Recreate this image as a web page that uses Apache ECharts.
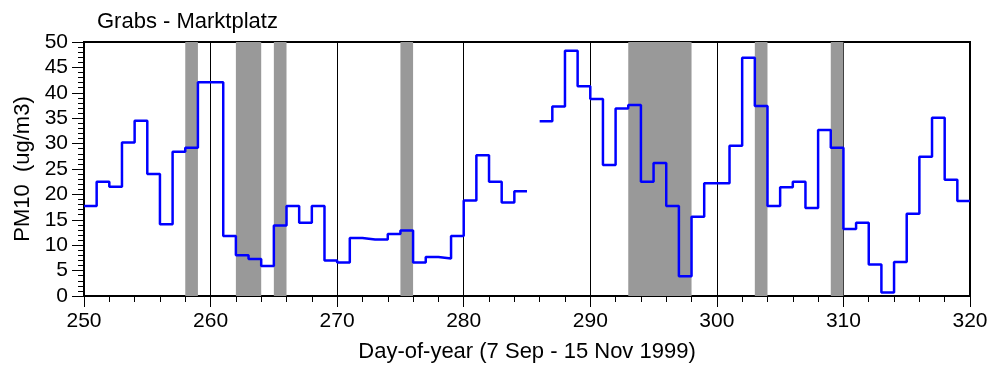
<!DOCTYPE html>
<html>
<head>
<meta charset="utf-8">
<script src="https://cdn.jsdelivr.net/npm/echarts@6/dist/echarts.min.js"></script>
<style>html,body{margin:0;padding:0;background:#fff;}#c{width:989px;height:365px;}</style>
</head>
<body>
<div id="c"></div>
<script>
// Day-of-year at start of each daily step
var days = [250,251,252,253,254,255,256,257,258,259,260,261,262,263,264,265,266,267,268,269,
            270,271,272,273,274,275,276,277,278,279,280,281,282,283,284,285,286,287,288,289,
            290,291,292,293,294,295,296,297,298,299,300,301,302,303,304,305,306,307,308,309,
            310,311,312,313,314,315,316,317,318,319];
// PM10 daily values (null = missing)
var pm10 = [17.7,22.5,21.5,30.2,34.5,24.0,14.1,28.4,29.2,42.1,42.1,11.8,8.0,7.3,5.9,13.9,17.7,14.4,17.7,7.0,
            6.6,11.4,11.1,11.1,12.2,12.9,6.6,7.7,7.4,11.8,18.8,27.7,22.5,18.4,20.6,null,34.4,37.3,48.3,41.3,
            38.8,25.8,36.9,37.6,22.5,26.2,17.7,3.9,15.6,22.2,22.2,29.6,46.9,37.4,17.7,21.4,22.5,17.3,32.7,29.2,
            13.2,14.4,6.2,0.7,6.7,16.2,27.4,35.1,22.9,18.7];
// Shaded periods [start, end]
var bands = [[258,259],[262,264],[265,266],[275,276],[293,298],[303,304],[309,310]];
var xTicks = [250,260,270,280,290,300,310,320];
var yTicks = [0,5,10,15,20,25,30,35,40,45,50];

// build step data: each day holds its value until the next day
var data = [];
for (var i = 0; i < days.length; i++) {
  var v = pm10[i];
  if (v === null) { data.push([days[i], '-']); continue; }
  data.push([days[i], v]);
  var nextNull = i === days.length - 1 || pm10[i+1] === null;
  if (nextNull) data.push([days[i] + 1, v]);
}

var FONT = "'Liberation Sans', Arial, Helvetica, sans-serif";
var chart = echarts.init(document.getElementById('c'), null, {renderer: 'canvas'});
chart.setOption({
  animation: false,
  title: {
    text: 'Grabs - Marktplatz', left: 92, top: 6,
    textStyle: {fontFamily: FONT, fontSize: 22, fontWeight: 'normal', color: '#000'}
  },
  grid: {left: 84, right: 19, top: 42, bottom: 69, show: true, borderColor: '#000', borderWidth: 2,
         backgroundColor: 'transparent', containLabel: false, outerBoundsMode: 'none'},
  xAxis: {
    type: 'value', min: xTicks[0], max: xTicks[xTicks.length-1], interval: 10,
    name: 'Day-of-year (7 Sep - 15 Nov 1999)', nameLocation: 'middle', nameGap: 45,
    nameTextStyle: {fontFamily: FONT, fontSize: 22, color: '#000'},
    axisLine: {show: true, lineStyle: {color: '#000', width: 2}},
    axisTick: {show: true, inside: false, length: 11, lineStyle: {color: '#000', width: 1}},
    minorTick: {show: true, splitNumber: 5, length: 6, lineStyle: {color: '#000', width: 1}},
    axisLabel: {fontFamily: FONT, fontSize: 21, color: '#000', margin: 15},
    splitLine: {show: true, lineStyle: {color: '#000', width: 1}}
  },
  yAxis: {
    type: 'value', min: yTicks[0], max: yTicks[yTicks.length-1], interval: 5,
    name: 'PM10  (ug/m3)', nameLocation: 'middle', nameGap: 50, nameRotate: 90,
    nameTextStyle: {fontFamily: FONT, fontSize: 22, color: '#000'},
    axisLine: {show: true, lineStyle: {color: '#000', width: 2}},
    axisTick: {show: true, inside: false, length: 12, lineStyle: {color: '#000', width: 1}},
    minorTick: {show: true, splitNumber: 5, length: 6, lineStyle: {color: '#000', width: 1}},
    axisLabel: {fontFamily: FONT, fontSize: 21, color: '#000', margin: 16},
    splitLine: {show: false}
  },
  series: [{
    type: 'line', step: 'end', data: data, showSymbol: false, connectNulls: false,
    lineStyle: {color: '#0000ff', width: 2.5}, z: 3,
    markArea: {
      silent: true,
      itemStyle: {color: '#999999'},
      data: bands.map(function (b) { return [{xAxis: b[0]}, {xAxis: b[1]}]; })
    }
  }]
});
</script>
</body>
</html>
